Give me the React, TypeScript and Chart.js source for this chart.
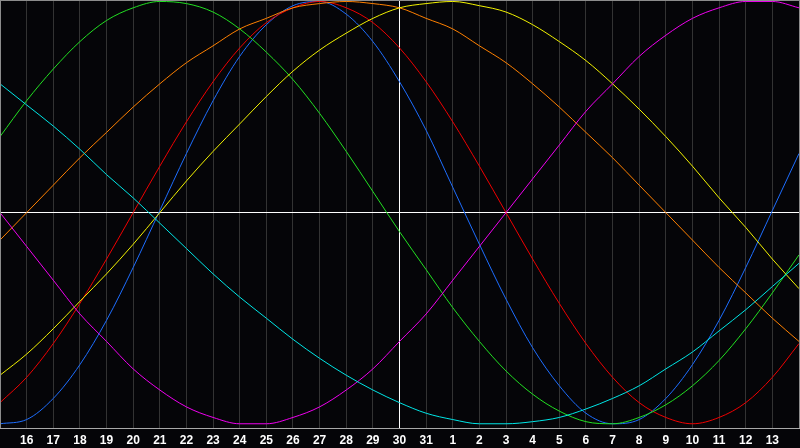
import { useEffect, useRef } from 'react';
import { Chart, registerables } from 'chart.js';

Chart.register(...registerables);

// Day labels, one per day (15th of the month to the 14th of the next)
const dayLabels = [
  '15', '16', '17', '18', '19', '20', '21', '22', '23', '24', '25', '26', '27', '28', '29', '30', '31',
  '1', '2', '3', '4', '5', '6', '7', '8', '9', '10', '11', '12', '13', '14',
];

// Series values (percent), one value per day
const physical = [-100, -98, -88, -72, -51, -26, 1, 28, 53, 74, 89, 98, 100, 94, 81, 62, 39, 12, -15, -41, -64, -82, -95, -100, -98, -88, -72, -51, -26, 1, 28];
const emotional = [-90, -78, -62, -43, -22, 0, 22, 43, 62, 78, 90, 97, 100, 97, 90, 78, 62, 43, 22, 0, -22, -43, -62, -78, -90, -97, -100, -97, -90, -78, -62];
const intellectual = [36, 53, 68, 81, 91, 97, 100, 99, 95, 87, 76, 63, 47, 29, 10, -9, -27, -45, -61, -75, -86, -94, -99, -100, -97, -91, -82, -70, -55, -38, -20];
const intuitive = [0, -16, -32, -48, -61, -74, -84, -92, -97, -100, -100, -97, -92, -84, -74, -61, -48, -32, -16, 0, 16, 32, 48, 61, 74, 84, 92, 97, 100, 100, 97];
const aesthetic = [-77, -67, -55, -42, -29, -15, 0, 15, 29, 42, 55, 67, 77, 85, 92, 97, 99, 100, 98, 95, 89, 81, 72, 61, 49, 36, 22, 7, -7, -22, -36];
const awareness = [-13, 0, 13, 26, 38, 50, 61, 71, 79, 87, 92, 97, 99, 100, 99, 97, 92, 87, 79, 71, 61, 50, 38, 26, 13, 0, -13, -26, -38, -50, -61];
const spiritual = [61, 51, 41, 30, 18, 7, -5, -17, -29, -40, -50, -60, -69, -77, -84, -90, -95, -98, -100, -100, -99, -97, -93, -88, -82, -74, -66, -56, -46, -35, -24];

const TODAY_INDEX = 15;

export default function App() {
  const canvasRef = useRef<HTMLCanvasElement | null>(null);

  useEffect(() => {
    document.body.style.margin = '0';
    document.body.style.background = '#050508';
    const canvas = canvasRef.current;
    if (!canvas) return;

    const bgPlugin = {
      id: 'bg',
      beforeDraw(chart: any) {
        const { ctx, width, height } = chart;
        ctx.save();
        ctx.fillStyle = '#050508';
        ctx.fillRect(0, 0, width, height);
        ctx.restore();
      },
    };

    const framePlugin = {
      id: 'frame',
      afterDraw(chart: any) {
        const { ctx, chartArea, width } = chart;
        ctx.save();
        ctx.strokeStyle = '#8c8c8c';
        ctx.lineWidth = 1;
        ctx.beginPath();
        ctx.moveTo(0, 0.5);
        ctx.lineTo(width, 0.5);
        ctx.moveTo(0.5, 0);
        ctx.lineTo(0.5, chartArea.bottom);
        ctx.moveTo(width - 0.5, 0);
        ctx.lineTo(width - 0.5, chartArea.bottom);
        ctx.stroke();
        ctx.restore();
      },
    };

    const mk = (label: string, data: number[], color: string) => ({
      label,
      data,
      borderColor: color,
      backgroundColor: color,
      borderWidth: 1,
      pointRadius: 0,
      pointHoverRadius: 0,
      cubicInterpolationMode: 'monotone' as const,
      fill: false,
    });

    const chart = new Chart(canvas, {
      type: 'line',
      data: {
        labels: dayLabels,
        datasets: [
          mk('Spiritual', spiritual, '#00e6e6'),
          mk('Intuitive', intuitive, '#f000f0'),
          mk('Aesthetic', aesthetic, '#f2f200'),
          mk('Awareness', awareness, '#ff8000'),
          mk('Intellectual', intellectual, '#22e022'),
          mk('Emotional', emotional, '#f00000'),
          mk('Physical', physical, '#1e6eff'),
        ],
      },
      options: {
        animation: false,
        responsive: true,
        maintainAspectRatio: false,
        layout: { padding: { left: 0, right: 1, top: 0, bottom: 0 } },
        plugins: {
          legend: { display: false },
          tooltip: { enabled: false },
        },
        scales: {
          x: {
            offset: false,
            afterFit: (scale: any) => {
              scale.paddingLeft = 0;
              scale.paddingRight = 0;
              scale.height = 20;
            },
            grid: {
              drawTicks: false,
              lineWidth: 1,
              color: (ctx: any) =>
                ctx.index === TODAY_INDEX
                  ? '#ffffff'
                  : ctx.index === 0 || ctx.index === dayLabels.length - 1
                  ? 'rgba(0,0,0,0)'
                  : '#333333',
            },
            border: { display: true, color: '#a8a8a8', width: 1 },
            ticks: {
              autoSkip: false,
              maxRotation: 0,
              minRotation: 0,
              padding: 5,
              color: '#ffffff',
              font: { family: '"Liberation Sans", Arial, sans-serif', size: 12, weight: 'bold' },
              callback: (_v: any, i: number) =>
                i === 0 || i === dayLabels.length - 1 ? '' : dayLabels[i],
            },
          },
          y: {
            min: -102,
            max: 100.7,
            grid: {
              drawTicks: false,
              color: (ctx: any) => (ctx.tick && ctx.tick.value === 0 ? '#ffffff' : 'rgba(0,0,0,0)'),
            },
            border: { display: false },
            ticks: { display: false, stepSize: 50 },
          },
        },
      },
      plugins: [bgPlugin, framePlugin],
    });

    return () => {
      chart.destroy();
    };
  }, []);

  return (
    <div style={{ position: 'fixed', left: 0, top: 0, width: 800, height: 448, background: '#050508' }}>
      <canvas ref={canvasRef} />
    </div>
  );
}
